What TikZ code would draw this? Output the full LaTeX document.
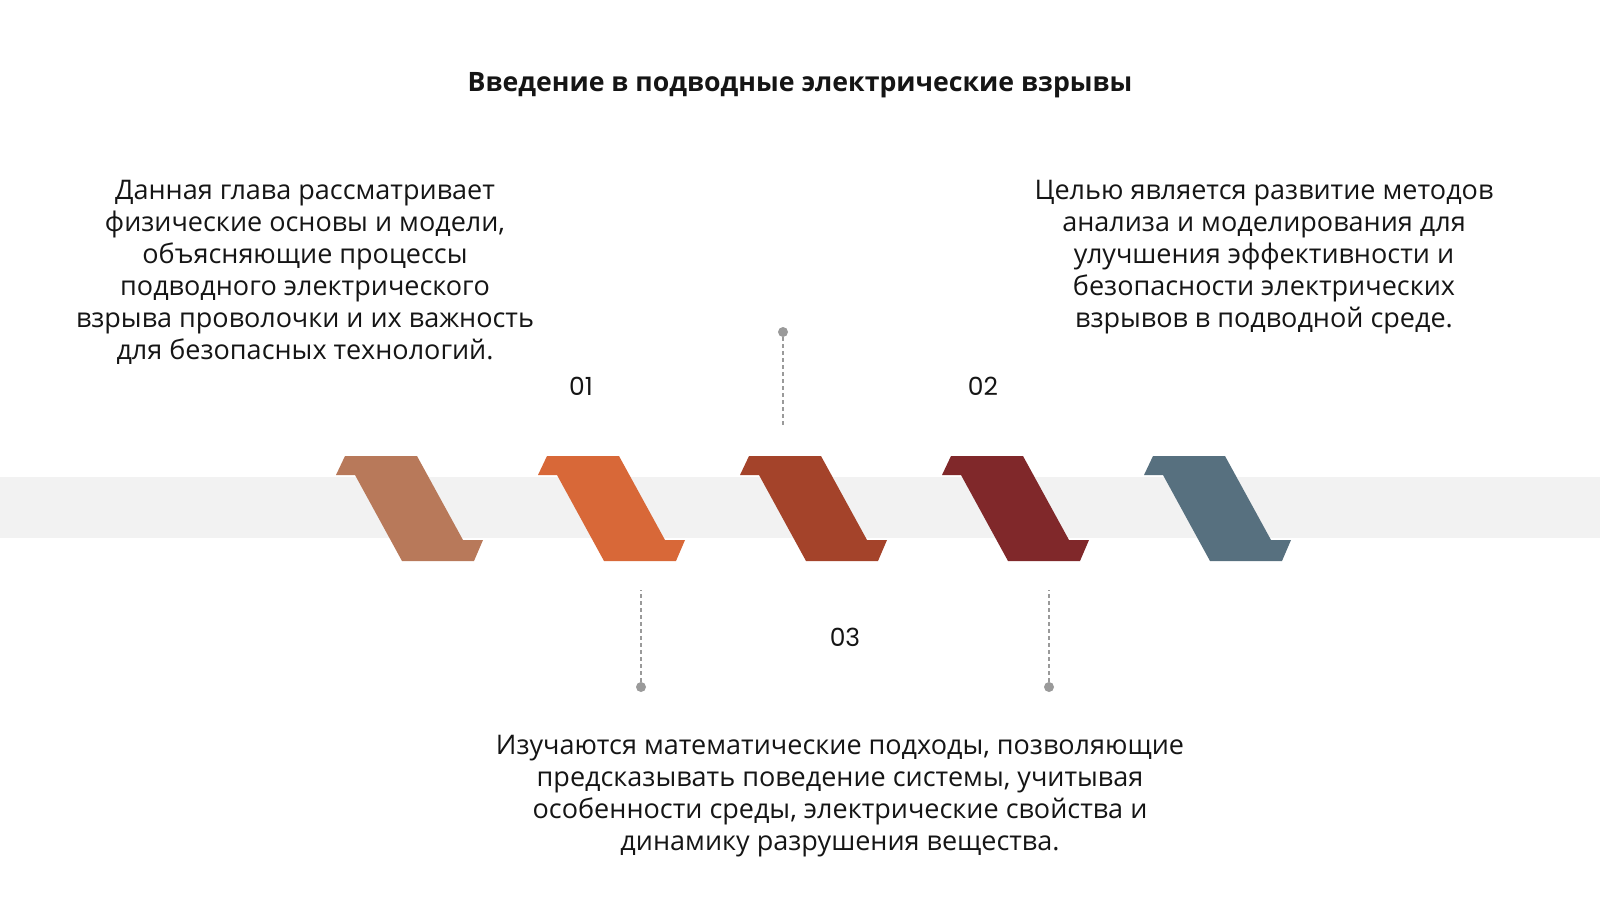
\documentclass[tikz,border=0pt]{standalone}
\usepackage{fontspec}
\setmainfont{Open Sans}
\newfontfamily\numfont{Poppins}
\definecolor{barGray}{HTML}{F2F2F2}
\definecolor{guideGray}{HTML}{9A9A9A}
\definecolor{textDark}{HTML}{151515}
\definecolor{stepA}{HTML}{B8795A}
\definecolor{stepB}{HTML}{D86838}
\definecolor{stepC}{HTML}{A4432A}
\definecolor{stepD}{HTML}{80282A}
\definecolor{stepE}{HTML}{57707F}
\begin{document}
\begin{tikzpicture}[x=1pt,y=-1pt]

        \useasboundingbox (0,0) rectangle (1600,900);
        \fill[barGray] (0,477) rectangle (1600,538);

        \foreach \x/\c in {345/stepA,547/stepB,749/stepC,951/stepD,1153/stepE}
          \fill[\c] (\x,456) -- ++(72,0) -- ++(46,84) -- ++(20,0) -- ++(-9,21)
            -- ++(-72,0) -- ++(-47,-86) -- ++(-19,0) -- cycle;

        \begin{scope}[every node/.style={circle, fill=guideGray, inner sep=0pt, minimum size=10pt}]
          \node (p1) at (783,332) {};
          \node (p2) at (641,687) {};
          \node (p3) at (1049,687) {};
        \end{scope}

        \coordinate (q1) at (783,428);
        \coordinate (q2) at (641,590);
        \coordinate (q3) at (1049,590);

        \begin{scope}[every path/.style={draw=guideGray, dashed, line width=1.2pt, dash pattern=on 4pt off 3pt}]
          \path (p1) -- (q1);
          \path (p2) -- (q2);
          \path (p3) -- (q3);
        \end{scope}

        \begin{scope}[every node/.style={text=textDark, font=\numfont\fontsize{25}{28}\selectfont}]
          \node (n1) at (581,386) {01};
          \node (n2) at (983,386) {02};
          \node (n3) at (845,637) {03};
        \end{scope}

        \node[text=textDark, font=\bfseries\fontsize{26.7}{30}\selectfont] (title) at (800,85)
          {Введение в подводные электрические взрывы};

        \begin{scope}[every node/.style={align=center, text=textDark, font=\fontsize{27}{32}\selectfont}]
          \node (t1) at (305,272) {Данная глава рассматривает\\физические основы и модели,\\объясняющие процессы\\подводного электрического\\взрыва проволочки и их важность\\для безопасных технологий.};
          \node (t2) at (1264,257) {Целью является развитие методов\\анализа и моделирования для\\улучшения эффективности и\\безопасности электрических\\взрывов в подводной среде.};
          \node (t3) at (840,796) {Изучаются математические подходы, позволяющие\\предсказывать поведение системы, учитывая\\особенности среды, электрические свойства и\\динамику разрушения вещества.};
        \end{scope}

      \end{tikzpicture}
\end{document}
